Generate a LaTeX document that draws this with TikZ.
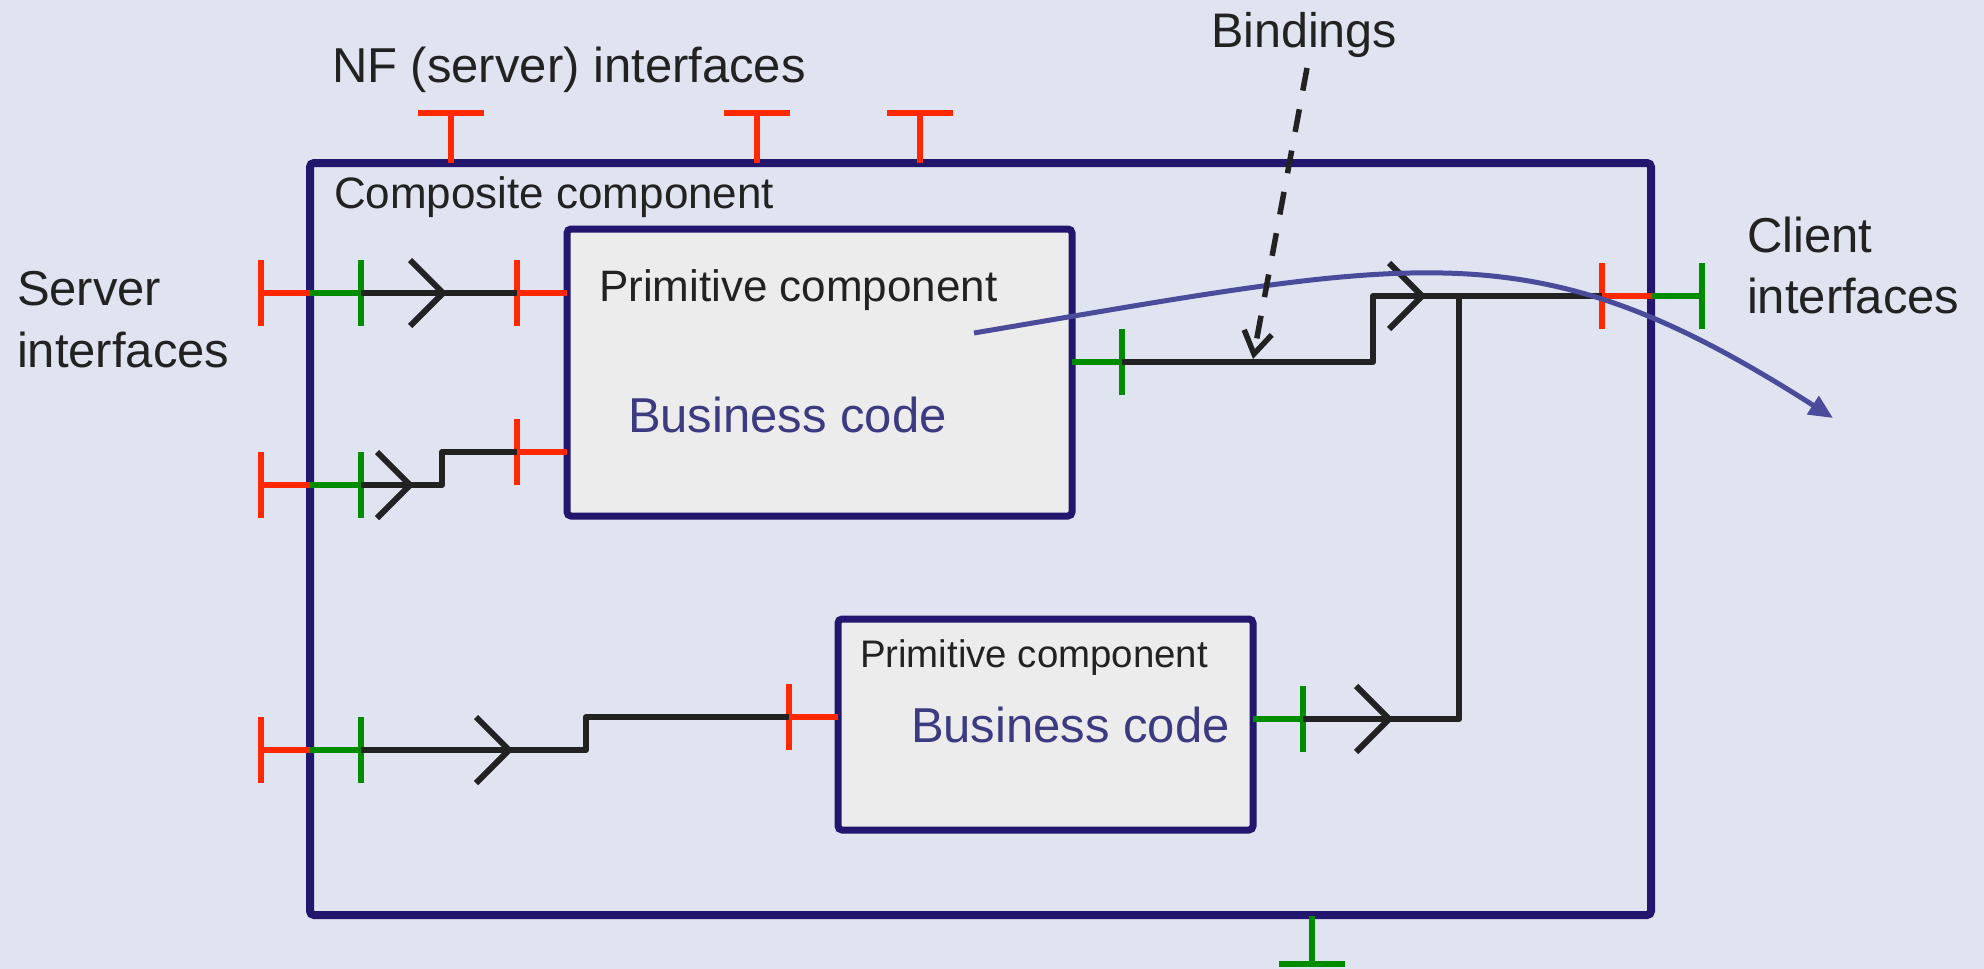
\documentclass[tikz,border=0pt]{standalone}
\usepackage{fontspec}
\setmainfont{Liberation Sans}
\usetikzlibrary{arrows.meta}

\definecolor{bgcol}{HTML}{DFE4F0}
\definecolor{navy}{HTML}{23166E}
\definecolor{portred}{HTML}{FF2800}
\definecolor{portgreen}{HTML}{008C00}
\definecolor{boxfill}{HTML}{ECECEC}
\definecolor{codecol}{HTML}{3C3A80}
\definecolor{flowcol}{HTML}{4B4B9B}
\definecolor{ink}{HTML}{222222}

\newcommand{\setpx}[1]{\fontsize{#1}{#1}\selectfont}

\tikzset{
  compbox/.style={draw=navy, line width=8pt, rounded corners=4pt, inner sep=0pt,
                  outer sep=0pt, anchor=north west},
  primbox/.style={compbox, fill=boxfill, line width=7pt},
  lbl/.style={inner sep=0pt, outer sep=0pt, anchor=base west, text=ink},
  redport/.style={draw=portred, line width=5.5pt},
  greenport/.style={draw=portgreen, line width=5.5pt},
  bind/.style={draw=ink, line width=6pt, line join=round},
  flow/.style={draw=flowcol, line width=5pt, -{Triangle[length=24pt,width=21pt]}},
  bindref/.style={draw=ink, line width=5.5pt, dash pattern=on 23pt off 19pt,
                  -{Straight Barb[length=22pt,width=28pt]}},
  % interface symbol: a stub of length #2 ending in a cross bar
  pics/tee/.style 2 args={code={\draw[#1] (0,0) -- (#2,0) (#2,-33) -- (#2,33);}},
  % open chevron marking the direction of a binding
  pics/chev/.style={code={\draw[bind, line join=miter] (-33,-33) -- (0,0) -- (-33,33);}},
}

\begin{document}
\begin{tikzpicture}[x=1pt, y=-1pt]
  % canvas
  \fill[bgcol] (0,0) rectangle (1984,969);
  \useasboundingbox (0,0) rectangle (1984,969);

  % components
  \node[compbox, minimum width=1341pt, minimum height=752pt] (comp) at (310,163) {};
  \node[primbox, minimum width=505pt, minimum height=287pt] (prim1) at (567,229) {};
  \node[primbox, minimum width=415pt, minimum height=211pt] (prim2) at (838,619) {};

  % interface positions
  \coordinate (cs1) at (310,293);  \coordinate (cs1i) at (361,293);
  \coordinate (cs2) at (310,485);  \coordinate (cs2i) at (361,485);
  \coordinate (cs3) at (310,750);  \coordinate (cs3i) at (361,750);
  \coordinate (p1s1) at (567,293); \coordinate (p1s1o) at (517,293);
  \coordinate (p1s2) at (567,452); \coordinate (p1s2o) at (517,452);
  \coordinate (p2s)  at (838,717); \coordinate (p2so)  at (789,717);
  \coordinate (p1c)  at (1072,362); \coordinate (p1co) at (1122,362);
  \coordinate (p2c)  at (1253,719); \coordinate (p2co) at (1303,719);
  \coordinate (cc)   at (1652,296); \coordinate (cci)  at (1602,296);
  \coordinate (nf1) at (451,163);
  \coordinate (nf2) at (757,163);
  \coordinate (nf3) at (920,163);
  \coordinate (nfc) at (1312,916);
  \coordinate (junc) at (1459,296);

  % server interfaces of the composite (outer red, inner green)
  \foreach \p in {cs1,cs2,cs3}{
    \pic[rotate=180] at (\p) {tee={redport}{49}};
    \pic at (\p) {tee={greenport}{51}};
  }
  % server interfaces of the primitives
  \pic[rotate=180] at (p1s1) {tee={redport}{50}};
  \pic[rotate=180] at (p1s2) {tee={redport}{50}};
  \pic[rotate=180] at (p2s)  {tee={redport}{49}};
  % client interfaces of the primitives
  \pic at (p1c) {tee={greenport}{50}};
  \pic at (p2c) {tee={greenport}{50}};
  % client interface of the composite
  \pic[rotate=180] at (cc) {tee={redport}{50}};
  \pic at (cc) {tee={greenport}{50}};
  % non-functional interfaces
  \foreach \p in {nf1,nf2,nf3}{
    \pic[rotate=90] at (\p) {tee={redport}{50}};
  }
  \pic[rotate=-90] at (nfc) {tee={greenport}{48}};

  % bindings
  \draw[bind] (cs1i) -- (p1s1o);
  \draw[bind] (cs2i) -- (442,485) |- (p1s2o);
  \draw[bind] (cs3i) -- (586,750) |- (p2so);
  \draw[bind] (p1co) -- (1373,362) |- (cci);
  \draw[bind] (p2co) -| (junc);
  \pic at (443,293) {chev};
  \pic at (410,485) {chev};
  \pic at (509,750) {chev};
  \pic at (1422,296) {chev};
  \pic at (1389,719) {chev};

  % request flow through the components
  \coordinate (flowstart) at (974,333);
  \coordinate (flowend) at (1833,418);
  \draw[flow] (flowstart) .. controls (1424,257) and (1533,226) .. (flowend);

  % pointer to a binding
  \coordinate (bindtail) at (1307,68);
  \coordinate (bindtip) at (1253,359);
  \draw[bindref] (bindtail) -- (bindtip);

  % labels
  \node[lbl, font=\setpx{49}] (nflabel) at (332,82) {NF (server) interfaces};
  \node[lbl, font=\setpx{48.5}] (bindlabel) at (1211,47) {Bindings};
  \node[lbl, font=\setpx{49}] (srvlabel) at (17,305) {Server};
  \node[lbl, font=\setpx{49}] (srvlabelb) at (17,367) {interfaces};
  \node[lbl, font=\setpx{49}] (clilabel) at (1747,252) {Client};
  \node[lbl, font=\setpx{49}] (clilabelb) at (1747,313) {interfaces};
  \node[lbl, font=\setpx{44}] (complabel) at (334,208) {Composite component};
  \node[lbl, font=\setpx{44}] (p1label) at (599,301) {Primitive component};
  \node[lbl, font=\setpx{49}, text=codecol] (p1code) at (628,432) {Business code};
  \node[lbl, font=\setpx{38.4}] (p2label) at (860,667) {Primitive component};
  \node[lbl, font=\setpx{49}, text=codecol] (p2code) at (911,742) {Business code};
\end{tikzpicture}
\end{document}
